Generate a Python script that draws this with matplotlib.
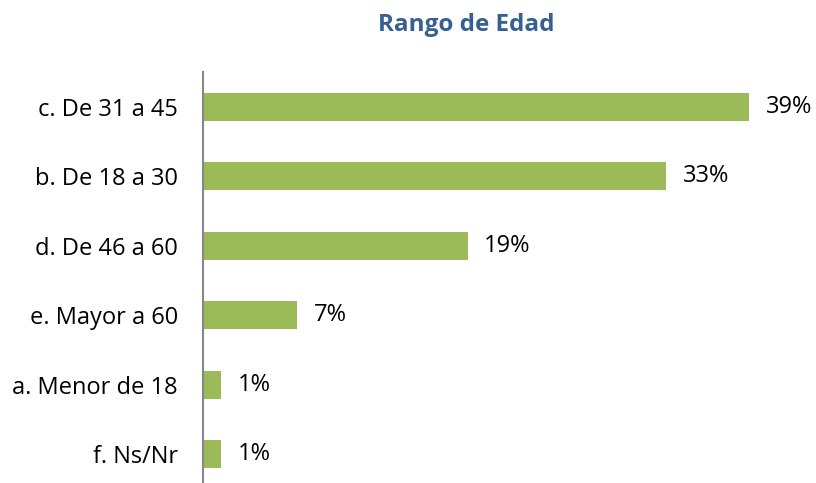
import matplotlib
matplotlib.use("Agg")
import matplotlib.pyplot as plt

categories = ["c. De 31 a 45", "b. De 18 a 30", "d. De 46 a 60", "e. Mayor a 60", "a. Menor de 18", "f. Ns/Nr"]
values = [39.0, 33.1, 18.9, 6.7, 1.3, 1.3]
labels = ["39%", "33%", "19%", "7%", "1%", "1%"]
title = "Rango de Edad"

W, H = 816, 483
fig = plt.figure(figsize=(W / 100, H / 100), dpi=100)
left = 203 / W
top = 72 / H
plot_h = 417 / H
ax = fig.add_axes([left, 1 - top - plot_h, 560 / W, plot_h])

font = "Open Sans"
y = list(range(len(categories)))
ax.barh(y, values, height=0.4, color="#9BBB59", zorder=2)
ax.set_ylim(len(categories) - 0.5, -0.5)
ax.set_xlim(0, 40)
ax.set_yticks(y)
ax.set_yticklabels(categories, fontsize=17, family=font, color="#000000")
ax.tick_params(axis="y", length=0, pad=18)
ax.set_xticks([])
for s in ["top", "right", "bottom"]:
    ax.spines[s].set_visible(False)
ax.spines["left"].set_color("#868686")
ax.spines["left"].set_linewidth(1.5)

for yi, v, lab in zip(y, values, labels):
    ax.annotate(lab, (v, yi), xytext=(12, 0), textcoords="offset points",
                va="center", ha="left", fontsize=17, family=font, color="#000000")

fig.text(466 / W, 1 - 25 / H, title, ha="center", va="center", fontsize=17.5,
         fontweight="bold", family=font, color="#376092")

fig.savefig("out.png", dpi=100)
